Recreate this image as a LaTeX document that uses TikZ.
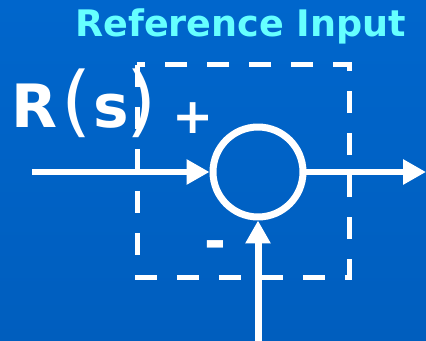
\documentclass[tikz,border=0pt]{standalone}
\usepackage{fontspec}
\setmainfont{DejaVu Sans}
\usepackage{xcolor}
\usetikzlibrary{arrows.meta,positioning}
\definecolor{bgcolor}{RGB}{0, 102, 204}
\definecolor{bgdark}{RGB}{0, 94, 190}
\definecolor{titlecolor}{RGB}{102, 255, 255}

\begin{document}
\begin{tikzpicture}[x=0.02cm,y=-0.02cm,
    sumnode/.style={circle,draw=white,line width=0.14cm,minimum size=1.8cm,inner sep=0pt},
    sigarrow/.style={white,line width=0.14cm,-{Triangle[length=0.46cm,width=0.48cm]}},
    dashbox/.style={white,line width=0.1cm,dash pattern=on 0.44cm off 0.4cm}]
        % Background
        \useasboundingbox (0,0) rectangle (426,341);
        \shade[top color=bgcolor,bottom color=bgdark] (0,0) rectangle (426,341);
        % Title
        \node[anchor=base west,inner sep=0pt,text=titlecolor,font=\bfseries\fontsize{20.8}{25}\selectfont] (title) at (75,37) {Reference Input};
        % Dashed block around the junction
        \draw[dashbox] (137,65) rectangle (349,277);
        % Summing junction
        \node[sumnode] (sum) at (258,172) {};
        \coordinate (in) at (32,172);
        \coordinate (out) at (426,172);
        \coordinate (fb) at (258,341);
        \draw[sigarrow] (in) -- (sum.west);
        \draw[sigarrow] (sum.east) -- (out);
        \draw[sigarrow] (fb) -- (sum.south);
        % Signs and signal name
        \node[anchor=base west,inner sep=0pt,text=white,font=\fontsize{34}{40}\selectfont] (rs) at (11,128)
            {\textbf{R}\hspace{0.08cm}{\fontsize{44}{50}\selectfont(}\hspace{0.04cm}\textbf{s}\hspace{-0.06cm}{\fontsize{44}{50}\selectfont)}};
        \node[text=white,font=\bfseries\fontsize{28}{32}\selectfont] (plus) at (193,118) {+};
        \node[text=white,font=\bfseries\fontsize{30}{36}\selectfont] (minus) at (215,250) {-};
\end{tikzpicture}
\end{document}
